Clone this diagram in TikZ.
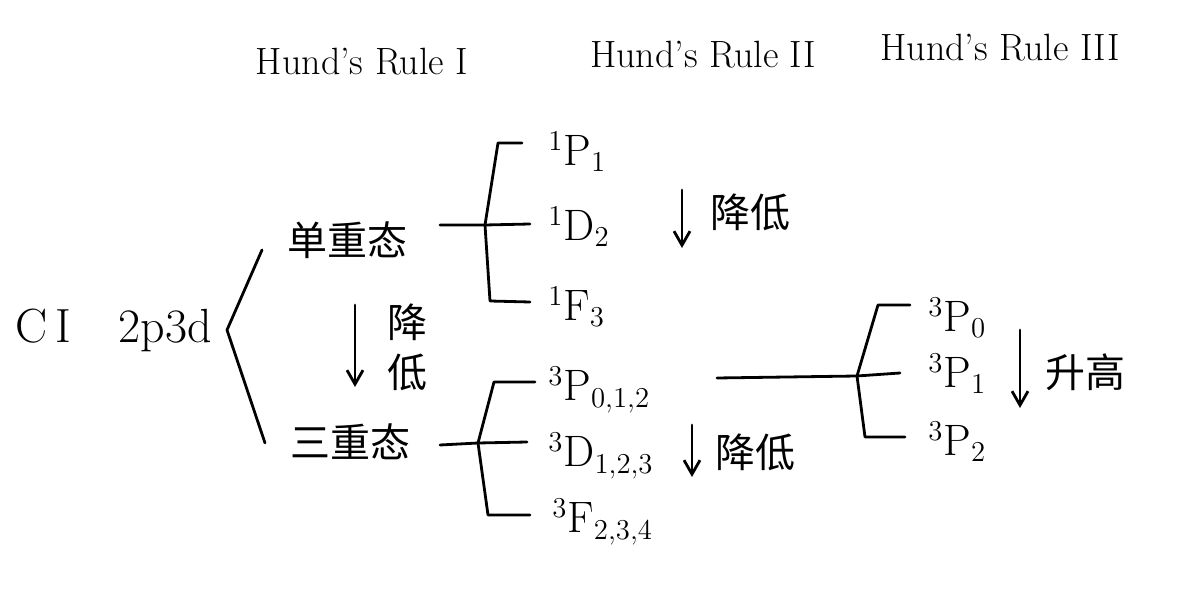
\documentclass[tikz,border=0pt]{standalone}
\usepackage{fontspec}
\newfontfamily\cjk{Noto Sans CJK SC}
\usetikzlibrary{arrows.meta}
\tikzset{
  ink/.style={line width=1.4pt, line cap=round, line join=round},
  fall/.style={ink, -{Straight Barb[length=7pt,width=8pt]}},
  rulelabel/.style={font=\fontsize{19}{23}\selectfont},
  term/.style={font=\fontsize{22}{26}\selectfont, anchor=west, inner sep=0pt},
  hanzi/.style={font=\cjk\fontsize{20}{25}\selectfont, align=center},
}
\begin{document}
\begin{tikzpicture}[x=0.5pt,y=-0.5pt]
  \useasboundingbox (0,0) rectangle (1183,592);
  % column titles
  \node[rulelabel] (rule1) at (362,62) {Hund's Rule I};
  \node[rulelabel] (rule2) at (703,55) {Hund's Rule II};
  \node[rulelabel] (rule3) at (1000,48) {Hund's Rule III};
  % configuration
  \node[font=\fontsize{24}{28}\selectfont, anchor=west] (conf) at (8,330) {C\,I\quad 2p3d};
  \coordinate (btop) at (262,250);
  \coordinate (btip) at (227,330);
  \coordinate (bbot) at (265,443);
  \draw[ink] (btop) -- (btip) -- (bbot);
  % singlet / triplet
  \node[hanzi] (single) at (347,240) {单重态};
  \node[hanzi] (triple) at (350,442) {三重态};
  \coordinate (a1s) at (355,305);
  \coordinate (a1e) at (355,387);
  \draw[fall] (a1s) -- (a1e);
  \node[hanzi] (low1) at (407,347) {降\\低};
  % singlet terms
  \node[term] (s1P) at (548,152) {${}^1\mathrm{P}_1$};
  \node[term] (s1D) at (548,227) {${}^1\mathrm{D}_2$};
  \node[term] (s1F) at (548,307) {${}^1\mathrm{F}_3$};
  \coordinate (sin) at (440,225);
  \coordinate (sj) at (485,225);
  \coordinate (sPk) at (498,143);
  \coordinate (sPe) at (522,143);
  \coordinate (sDe) at (530,224);
  \coordinate (sFk) at (490,301);
  \coordinate (sFe) at (530,302);
  \draw[ink] (sin) -- (sj) -- (sDe);
  \draw[ink] (sPe) -- (sPk) -- (sj) -- (sFk) -- (sFe);
  \coordinate (a2s) at (682,190);
  \coordinate (a2e) at (682,248);
  \draw[fall] (a2s) -- (a2e);
  \node[hanzi] (low2) at (750,212) {降低};
  % triplet terms
  \node[term] (t3P) at (548,390) {${}^3\mathrm{P}_{0,1,2}$};
  \node[term] (t3D) at (548,456) {${}^3\mathrm{D}_{1,2,3}$};
  \node[term] (t3F) at (552,522) {${}^3\mathrm{F}_{2,3,4}$};
  \coordinate (tin) at (440,445);
  \coordinate (tj) at (478,443);
  \coordinate (tPk) at (494,382);
  \coordinate (tPe) at (535,382);
  \coordinate (tDe) at (527,442);
  \coordinate (tFk) at (488,515);
  \coordinate (tFe) at (530,515);
  \draw[ink] (tin) -- (tj) -- (tDe);
  \draw[ink] (tPe) -- (tPk) -- (tj) -- (tFk) -- (tFe);
  \coordinate (a3s) at (692,425);
  \coordinate (a3e) at (692,477);
  \draw[fall] (a3s) -- (a3e);
  \node[hanzi] (low3) at (755,452) {降低};
  % fine structure of 3P
  \node[term] (p0) at (928,318) {${}^3\mathrm{P}_0$};
  \node[term] (p1) at (928,374) {${}^3\mathrm{P}_1$};
  \node[term] (p2) at (928,442) {${}^3\mathrm{P}_2$};
  \coordinate (pin) at (717,378);
  \coordinate (pj) at (857,376);
  \coordinate (p0k) at (878,305);
  \coordinate (p0e) at (910,305);
  \coordinate (p1e) at (900,373);
  \coordinate (p2k) at (865,437);
  \coordinate (p2e) at (905,437);
  \draw[ink] (pin) -- (pj) -- (p1e);
  \draw[ink] (p0e) -- (p0k) -- (pj) -- (p2k) -- (p2e);
  \coordinate (a4s) at (1020,330);
  \coordinate (a4e) at (1020,408);
  \draw[fall] (a4s) -- (a4e);
  \node[hanzi] (rise) at (1085,372) {升高};
\end{tikzpicture}
\end{document}
